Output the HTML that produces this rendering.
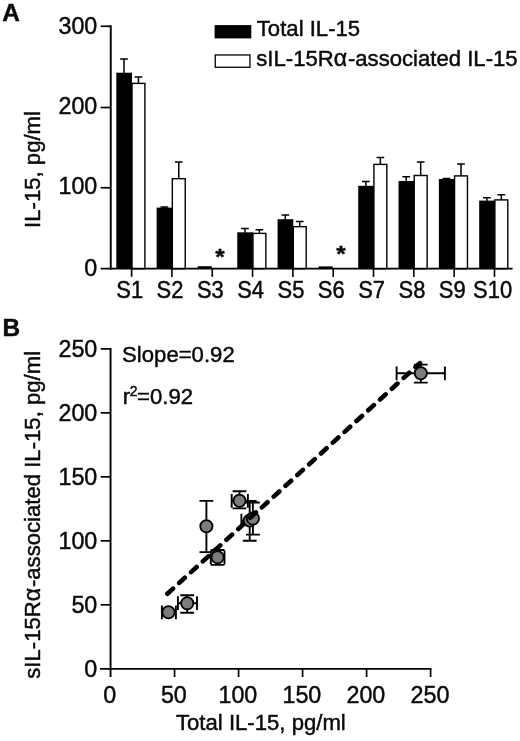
<!DOCTYPE html>
<html><head><meta charset="utf-8"><title>Figure</title>
<style>html,body{margin:0;padding:0;background:#fff}svg{display:block;will-change:transform}text{font-family:"Liberation Sans",Arial,Helvetica,sans-serif;fill:#0a0a0a;stroke:#0a0a0a;stroke-width:.45px;stroke-linejoin:round}</style></head><body>
<svg width="520" height="741" viewBox="0 0 520 741">
<rect width="520" height="741" fill="#fff"/>
<g id="panelA">
<text transform="translate(2.30 20.60)" font-size="24.4" font-weight="bold">A</text>
<rect x="116.30" y="72.70" width="15.7" height="196.00" fill="#000"/>
<rect x="132.00" y="83.40" width="12.9" height="185.30" fill="#fff" stroke="#000" stroke-width="1.4"/>
<path d="M124.00 73.20V59.00M120.15 59.00H127.85" stroke="#000" stroke-width="1.5" fill="none"/>
<path d="M138.45 83.20V77.00M134.60 77.00H142.30" stroke="#000" stroke-width="1.5" fill="none"/>
<rect x="156.62" y="207.60" width="15.7" height="61.10" fill="#000"/>
<rect x="172.32" y="178.70" width="12.9" height="90.00" fill="#fff" stroke="#000" stroke-width="1.4"/>
<path d="M164.32 208.10V206.90M160.47 206.90H168.17" stroke="#000" stroke-width="1.5" fill="none"/>
<path d="M178.77 178.50V162.10M174.92 162.10H182.62" stroke="#000" stroke-width="1.5" fill="none"/>
<rect x="197.64" y="266.20" width="14.2" height="2.50" fill="#000"/>
<rect x="237.26" y="232.30" width="15.7" height="36.40" fill="#000"/>
<rect x="252.96" y="233.40" width="12.9" height="35.30" fill="#fff" stroke="#000" stroke-width="1.4"/>
<path d="M244.96 232.80V228.50M241.11 228.50H248.81" stroke="#000" stroke-width="1.5" fill="none"/>
<path d="M259.41 233.20V229.80M255.56 229.80H263.26" stroke="#000" stroke-width="1.5" fill="none"/>
<rect x="277.58" y="219.20" width="15.7" height="49.50" fill="#000"/>
<rect x="293.28" y="226.70" width="12.9" height="42.00" fill="#fff" stroke="#000" stroke-width="1.4"/>
<path d="M285.28 219.70V215.00M281.43 215.00H289.13" stroke="#000" stroke-width="1.5" fill="none"/>
<path d="M299.73 226.50V221.50M295.88 221.50H303.58" stroke="#000" stroke-width="1.5" fill="none"/>
<rect x="318.60" y="266.40" width="14.2" height="2.30" fill="#000"/>
<rect x="358.22" y="185.80" width="15.7" height="82.90" fill="#000"/>
<rect x="373.92" y="164.40" width="12.9" height="104.30" fill="#fff" stroke="#000" stroke-width="1.4"/>
<path d="M365.92 186.30V181.50M362.07 181.50H369.77" stroke="#000" stroke-width="1.5" fill="none"/>
<path d="M380.37 164.20V157.50M376.52 157.50H384.22" stroke="#000" stroke-width="1.5" fill="none"/>
<rect x="398.54" y="181.00" width="15.7" height="87.70" fill="#000"/>
<rect x="414.24" y="175.50" width="12.9" height="93.20" fill="#fff" stroke="#000" stroke-width="1.4"/>
<path d="M406.24 181.50V176.70M402.39 176.70H410.09" stroke="#000" stroke-width="1.5" fill="none"/>
<path d="M420.69 175.30V162.10M416.84 162.10H424.54" stroke="#000" stroke-width="1.5" fill="none"/>
<rect x="438.86" y="179.00" width="15.7" height="89.70" fill="#000"/>
<rect x="454.56" y="175.90" width="12.9" height="92.80" fill="#fff" stroke="#000" stroke-width="1.4"/>
<path d="M446.56 179.50V178.40M442.71 178.40H450.41" stroke="#000" stroke-width="1.5" fill="none"/>
<path d="M461.01 175.70V164.00M457.16 164.00H464.86" stroke="#000" stroke-width="1.5" fill="none"/>
<rect x="479.18" y="200.60" width="15.7" height="68.10" fill="#000"/>
<rect x="494.88" y="199.90" width="12.9" height="68.80" fill="#fff" stroke="#000" stroke-width="1.4"/>
<path d="M486.88 201.10V197.70M483.03 197.70H490.73" stroke="#000" stroke-width="1.5" fill="none"/>
<path d="M501.33 199.70V194.80M497.48 194.80H505.18" stroke="#000" stroke-width="1.5" fill="none"/>
<path d="M110.75 25.4V269.60" stroke="#000" stroke-width="1.9" fill="none"/>
<path d="M100.7 268.7H512.6" stroke="#000" stroke-width="1.8" fill="none"/>
<path d="M100.7 26.25H110.75" stroke="#000" stroke-width="1.7" fill="none"/>
<text transform="translate(97.30 34.10)" font-size="23.3" text-anchor="end">300</text>
<path d="M100.7 107.5H110.75" stroke="#000" stroke-width="1.7" fill="none"/>
<text transform="translate(97.30 114.10)" font-size="23.3" text-anchor="end">200</text>
<path d="M100.7 187.75H110.75" stroke="#000" stroke-width="1.7" fill="none"/>
<text transform="translate(97.30 194.30)" font-size="23.3" text-anchor="end">100</text>
<text transform="translate(97.30 275.70)" font-size="23.3" text-anchor="end">0</text>
<path d="M131.60 268.7V276.9" stroke="#000" stroke-width="1.6" fill="none"/>
<text transform="translate(129.70 298.40) scale(0.9800 1.0400)" font-size="22.4" text-anchor="middle">S1</text>
<path d="M171.92 268.7V276.9" stroke="#000" stroke-width="1.6" fill="none"/>
<text transform="translate(170.02 298.40) scale(0.9800 1.0400)" font-size="22.4" text-anchor="middle">S2</text>
<path d="M212.24 268.7V276.9" stroke="#000" stroke-width="1.6" fill="none"/>
<text transform="translate(210.34 298.40) scale(0.9800 1.0400)" font-size="22.4" text-anchor="middle">S3</text>
<path d="M252.56 268.7V276.9" stroke="#000" stroke-width="1.6" fill="none"/>
<text transform="translate(250.66 298.40) scale(0.9800 1.0400)" font-size="22.4" text-anchor="middle">S4</text>
<path d="M292.88 268.7V276.9" stroke="#000" stroke-width="1.6" fill="none"/>
<text transform="translate(290.98 298.40) scale(0.9800 1.0400)" font-size="22.4" text-anchor="middle">S5</text>
<path d="M333.20 268.7V276.9" stroke="#000" stroke-width="1.6" fill="none"/>
<text transform="translate(331.30 298.40) scale(0.9800 1.0400)" font-size="22.4" text-anchor="middle">S6</text>
<path d="M373.52 268.7V276.9" stroke="#000" stroke-width="1.6" fill="none"/>
<text transform="translate(371.62 298.40) scale(0.9800 1.0400)" font-size="22.4" text-anchor="middle">S7</text>
<path d="M413.84 268.7V276.9" stroke="#000" stroke-width="1.6" fill="none"/>
<text transform="translate(411.94 298.40) scale(0.9800 1.0400)" font-size="22.4" text-anchor="middle">S8</text>
<path d="M454.16 268.7V276.9" stroke="#000" stroke-width="1.6" fill="none"/>
<text transform="translate(452.26 298.40) scale(0.9800 1.0400)" font-size="22.4" text-anchor="middle">S9</text>
<path d="M494.48 268.7V276.9" stroke="#000" stroke-width="1.6" fill="none"/>
<text transform="translate(492.58 298.40) scale(0.9800 1.0400)" font-size="22.4" text-anchor="middle">S10</text>
<text transform="translate(219.85 263.90) scale(1.0000 0.9150)" font-size="24.2" font-weight="bold" text-anchor="middle" stroke-width="0.9">*</text>
<text transform="translate(341.00 260.60) scale(1.0000 0.9150)" font-size="24.2" font-weight="bold" text-anchor="middle" stroke-width="0.9">*</text>
<text transform="translate(40.00 227.90) rotate(-90) scale(1.0000 1.0150)" font-size="22.15">IL-15, pg/ml</text>
<rect x="214.6" y="25.1" width="36.7" height="13.3" fill="#000"/>
<rect x="215.25" y="54.95" width="34.7" height="12.3" fill="#fff" stroke="#000" stroke-width="1.3"/>
<text transform="translate(256.80 36.30) scale(1.0000 1.0150)" font-size="22.15">Total IL-15</text>
<text transform="translate(256.30 66.40) scale(1.0000 1.0150)" font-size="22.15">sIL-15R<tspan font-size="23.2" letter-spacing="0.7">α</tspan>-associated IL-15</text>
</g>
<g id="panelB">
<text transform="translate(2.50 335.60)" font-size="24.4" font-weight="bold">B</text>
<path d="M168.50 612.30H161.90M161.90 605.40V619.20M168.50 612.30H175.90M175.90 605.40V619.20" stroke="#000" stroke-width="1.9" fill="none"/>
<path d="M187.20 603.20H177.90M177.90 596.30V610.10M187.20 603.20H197.00M197.00 596.30V610.10M187.20 603.20V595.20M180.30 595.20H194.10M187.20 603.20V612.70M180.30 612.70H194.10" stroke="#000" stroke-width="1.9" fill="none"/>
<path d="M206.40 526.30V500.90M199.50 500.90H213.30M206.40 526.30V552.10M199.50 552.10H213.30" stroke="#000" stroke-width="1.9" fill="none"/>
<path d="M217.60 557.30H210.80M210.80 550.40V564.20M217.60 557.30H224.50M224.50 550.40V564.20M217.60 557.30V550.00M210.70 550.00H224.50M217.60 557.30V564.90M210.70 564.90H224.50" stroke="#000" stroke-width="1.9" fill="none"/>
<path d="M239.50 500.80H231.70M231.70 493.90V507.70M239.50 500.80H247.90M247.90 493.90V507.70M239.50 500.80V491.20M232.60 491.20H246.40M239.50 500.80V508.40M232.60 508.40H246.40" stroke="#000" stroke-width="1.9" fill="none"/>
<path d="M249.70 520.60H241.40M241.40 513.70V527.50M249.70 520.60V501.00M242.80 501.00H256.60M249.70 520.60V540.80M242.80 540.80H256.60" stroke="#000" stroke-width="1.9" fill="none"/>
<path d="M252.90 518.50V502.50M246.00 502.50H259.80M252.90 518.50V534.60M246.00 534.60H259.80" stroke="#000" stroke-width="1.9" fill="none"/>
<path d="M420.80 373.30H396.60M396.60 366.40V380.20M420.80 373.30H444.90M444.90 366.40V380.20M420.80 373.30V364.60M413.90 364.60H427.70M420.80 373.30V382.60M413.90 382.60H427.70" stroke="#000" stroke-width="1.9" fill="none"/>
<path d="M167.4 593.7L419.9 363.1" stroke="#000" stroke-width="4.6" stroke-linecap="round" stroke-dasharray="7.6 8.4" fill="none"/>
<circle cx="168.50" cy="612.30" r="6.1" fill="#7c7c7c" stroke="#000" stroke-width="1.8"/>
<circle cx="187.20" cy="603.20" r="6.1" fill="#7c7c7c" stroke="#000" stroke-width="1.8"/>
<circle cx="206.40" cy="526.30" r="6.1" fill="#7c7c7c" stroke="#000" stroke-width="1.8"/>
<circle cx="217.60" cy="557.30" r="6.1" fill="#7c7c7c" stroke="#000" stroke-width="1.8"/>
<circle cx="239.50" cy="500.80" r="6.1" fill="#7c7c7c" stroke="#000" stroke-width="1.8"/>
<circle cx="249.70" cy="520.60" r="6.1" fill="#7c7c7c" stroke="#000" stroke-width="1.8"/>
<circle cx="252.90" cy="518.50" r="6.1" fill="#7c7c7c" stroke="#000" stroke-width="1.8"/>
<circle cx="420.80" cy="373.30" r="6.1" fill="#7c7c7c" stroke="#000" stroke-width="1.8"/>
<path d="M250.1 517.7L255.9 512.4" stroke="#000" stroke-width="4.6" stroke-linecap="round" fill="none"/>
<path d="M110.55 348.1V677" stroke="#000" stroke-width="1.9" fill="none"/>
<path d="M100 668.8H431.4" stroke="#000" stroke-width="1.8" fill="none"/>
<text transform="translate(97.30 677.20)" font-size="23.3" text-anchor="end">0</text>
<text transform="translate(109.85 702.80)" font-size="23.3" text-anchor="middle">0</text>
<path d="M100.7 604.82H110.55" stroke="#000" stroke-width="1.7" fill="none"/>
<text transform="translate(97.30 613.22)" font-size="23.3" text-anchor="end">50</text>
<path d="M174.56 668.8V677" stroke="#000" stroke-width="1.7" fill="none"/>
<text transform="translate(173.86 702.80)" font-size="23.3" text-anchor="middle">50</text>
<path d="M100.7 540.84H110.55" stroke="#000" stroke-width="1.7" fill="none"/>
<text transform="translate(97.30 549.24)" font-size="23.3" text-anchor="end">100</text>
<path d="M238.57 668.8V677" stroke="#000" stroke-width="1.7" fill="none"/>
<text transform="translate(237.87 702.80)" font-size="23.3" text-anchor="middle">100</text>
<path d="M100.7 476.86H110.55" stroke="#000" stroke-width="1.7" fill="none"/>
<text transform="translate(97.30 485.26)" font-size="23.3" text-anchor="end">150</text>
<path d="M302.58 668.8V677" stroke="#000" stroke-width="1.7" fill="none"/>
<text transform="translate(301.88 702.80)" font-size="23.3" text-anchor="middle">150</text>
<path d="M100.7 412.88H110.55" stroke="#000" stroke-width="1.7" fill="none"/>
<text transform="translate(97.30 421.28)" font-size="23.3" text-anchor="end">200</text>
<path d="M366.59 668.8V677" stroke="#000" stroke-width="1.7" fill="none"/>
<text transform="translate(365.89 702.80)" font-size="23.3" text-anchor="middle">200</text>
<path d="M100.7 348.90H110.55" stroke="#000" stroke-width="1.7" fill="none"/>
<text transform="translate(97.30 357.30)" font-size="23.3" text-anchor="end">250</text>
<path d="M430.60 668.8V677" stroke="#000" stroke-width="1.7" fill="none"/>
<text transform="translate(429.90 702.80)" font-size="23.3" text-anchor="middle">250</text>
<text transform="translate(176.00 730.20) scale(1.0000 1.0150)" font-size="22.15">Total IL-15, pg/ml</text>
<text transform="translate(40.00 678.70) rotate(-90) scale(1.0000 1.0150)" font-size="22.15">sIL-15R<tspan font-size="23.2" letter-spacing="0.7">α</tspan>-associated IL-15, pg/ml</text>
<text transform="translate(122.10 361.80) scale(1.0000 1.0150)" font-size="22.15">Slope=0.92</text>
<text transform="translate(122.80 404.00) scale(1.0000 1.0150)" font-size="22.15">r<tspan font-size="14" dy="-7.4" dx="-0.4">2</tspan><tspan dy="7.4" dx="-0.5">=0.92</tspan></text>
</g>
</svg></body></html>
